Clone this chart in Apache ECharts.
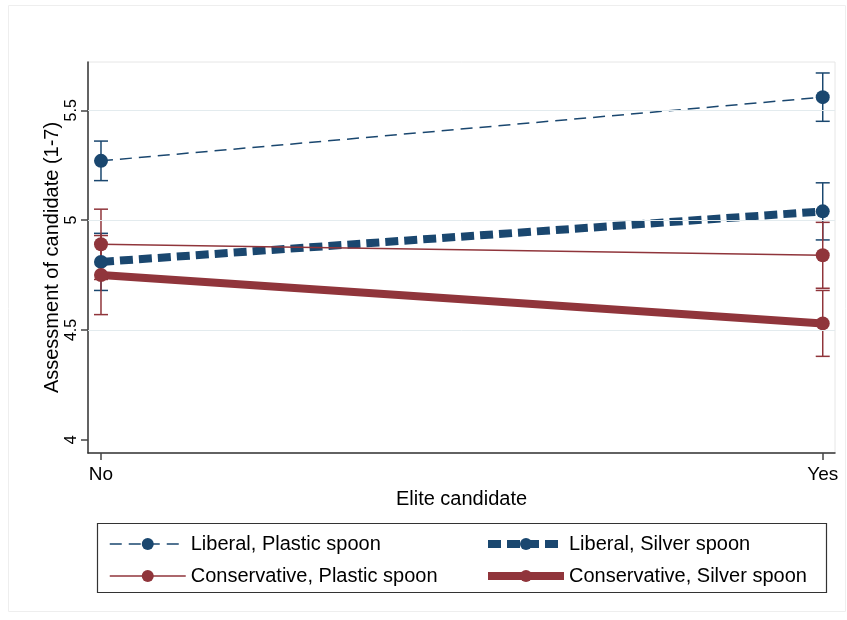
<!DOCTYPE html>
<html>
<head>
<meta charset="utf-8">
<script src="https://cdn.jsdelivr.net/npm/echarts@6/dist/echarts.min.js"></script>
<style>
  html, body { margin: 0; padding: 0; background: #ffffff; }
  #chart { width: 847px; height: 620px; }
</style>
</head>
<body>
<div id="chart"></div>
<script>
// Elite candidate (x) categories
const categories = ['No', 'Yes'];

// Series names
const nameLibPlastic = 'Liberal, Plastic spoon';
const nameLibSilver = 'Liberal, Silver spoon';
const nameConPlastic = 'Conservative, Plastic spoon';
const nameConSilver = 'Conservative, Silver spoon';

// Mean assessment and confidence bounds per category
const libPlastic = [5.27, 5.56];
const libPlasticLow = [5.18, 5.45];
const libPlasticHigh = [5.36, 5.67];

const libSilver = [4.81, 5.04];
const libSilverLow = [4.68, 4.91];
const libSilverHigh = [4.94, 5.17];

const conPlastic = [4.89, 4.84];
const conPlasticLow = [4.73, 4.69];
const conPlasticHigh = [5.05, 4.99];

const conSilver = [4.75, 4.53];
const conSilverLow = [4.57, 4.38];
const conSilverHigh = [4.93, 4.68];

// Axis ticks
const yTicks = [4, 4.5, 5, 5.5];
const yGrid = [4.5, 5, 5.5];
const xTicks = [0, 1];

const NAVY = '#1a476f';
const MAROON = '#90353b';
const FONT = "'Liberation Sans', Arial, Helvetica, sans-serif";

function points(vals) {
  return vals.map((v, i) => [i, v]);
}
function bounds(low, high) {
  return low.map((lo, i) => [i, lo, high[i]]);
}

function errorBars(name, low, high, color) {
  return {
    type: 'custom',
    name: name + ' CI',
    silent: true,
    z: 1,
    data: bounds(low, high),
    renderItem: function (params, api) {
      const x = api.value(0);
      const pLo = api.coord([x, api.value(1)]);
      const pHi = api.coord([x, api.value(2)]);
      const half = 7;
      const st = { stroke: color, lineWidth: 1.5, fill: null };
      return {
        type: 'group',
        children: [
          { type: 'line', shape: { x1: pLo[0], y1: pLo[1], x2: pHi[0], y2: pHi[1] }, style: st },
          { type: 'line', shape: { x1: pLo[0] - half, y1: pLo[1], x2: pLo[0] + half, y2: pLo[1] }, style: st },
          { type: 'line', shape: { x1: pHi[0] - half, y1: pHi[1], x2: pHi[0] + half, y2: pHi[1] }, style: st }
        ]
      };
    }
  };
}

function lineSeries(name, vals, color, width, dash) {
  return {
    type: 'line',
    name: name,
    data: points(vals),
    symbol: 'circle',
    symbolSize: 14,
    z: 3,
    itemStyle: { color: color, borderWidth: 0 },
    lineStyle: { color: color, width: width, type: dash || 'solid', cap: 'butt' }
  };
}

const series = [
  errorBars(nameLibPlastic, libPlasticLow, libPlasticHigh, NAVY),
  errorBars(nameLibSilver, libSilverLow, libSilverHigh, NAVY),
  errorBars(nameConPlastic, conPlasticLow, conPlasticHigh, MAROON),
  errorBars(nameConSilver, conSilverLow, conSilverHigh, MAROON),
  lineSeries(nameLibPlastic, libPlastic, NAVY, 1.5, [12, 7]),
  lineSeries(nameLibSilver, libSilver, NAVY, 8, [13, 6]),
  lineSeries(nameConPlastic, conPlastic, MAROON, 1.5),
  lineSeries(nameConSilver, conSilver, MAROON, 8)
];

// Light horizontal gridlines
series[0].markLine = {
  silent: true,
  symbol: 'none',
  label: { show: false },
  lineStyle: { color: '#e3ebee', width: 1, type: 'solid' },
  data: yGrid.map(v => ({ yAxis: v }))
};

const legendCommon = {
  orient: 'vertical',
  top: 529,
  itemWidth: 76,
  itemHeight: 15,
  itemGap: 12,
  selectedMode: false,
  textStyle: { fontFamily: FONT, fontSize: 20, color: '#000' },
  lineStyle: { width: 'inherit' }
};

const option = {
  animation: false,
  backgroundColor: '#ffffff',
  grid: {
    left: 88, right: 12, top: 62, bottom: 167,
    show: true, borderColor: '#e6e6e6', borderWidth: 1, backgroundColor: '#ffffff'
  },
  xAxis: {
    type: 'value',
    min: -0.018,
    max: 1.017,
    name: 'Elite candidate',
    nameLocation: 'middle',
    nameGap: 36,
    nameMoveOverlap: false,
    nameTextStyle: { fontFamily: FONT, fontSize: 20, color: '#000' },
    axisLine: { show: true, onZero: false, lineStyle: { color: '#333', width: 1.5 } },
    axisTick: { show: true, customValues: xTicks, length: 7, lineStyle: { color: '#444', width: 1.5 } },
    axisLabel: {
      customValues: xTicks,
      formatter: v => categories[Math.round(v)],
      fontFamily: FONT, fontSize: 19, color: '#000', margin: 12
    },
    splitLine: { show: false }
  },
  yAxis: {
    type: 'value',
    min: 3.94,
    max: 5.72,
    name: 'Assessment of candidate (1-7)',
    nameLocation: 'middle',
    nameRotate: 90,
    nameGap: 26,
    nameMoveOverlap: false,
    nameTextStyle: { fontFamily: FONT, fontSize: 20, color: '#000' },
    axisLine: { show: true, onZero: false, lineStyle: { color: '#333', width: 1.5 } },
    axisTick: { show: true, customValues: yTicks, length: 7, lineStyle: { color: '#444', width: 1.5 } },
    axisLabel: {
      customValues: yTicks,
      rotate: 90,
      fontFamily: FONT, fontSize: 16, color: '#000', margin: 8
    },
    splitLine: { show: false }
  },
  legend: [
    Object.assign({}, legendCommon, { left: 104, data: [nameLibPlastic, nameConPlastic] }),
    Object.assign({}, legendCommon, { left: 479, data: [nameLibSilver, nameConSilver] })
  ],
  graphic: [
    {
      type: 'rect', z: -10, silent: true,
      shape: { x: 8.5, y: 5.5, width: 837, height: 606 },
      style: { fill: null, stroke: '#eeeeee', lineWidth: 1 }
    },
    {
      type: 'rect', silent: true,
      shape: { x: 97.5, y: 523.5, width: 729, height: 69 },
      style: { fill: null, stroke: '#333333', lineWidth: 1.2 }
    }
  ],
  series: series
};

const chart = echarts.init(document.getElementById('chart'), null, { renderer: 'canvas' });
chart.setOption(option);
</script>
</body>
</html>
